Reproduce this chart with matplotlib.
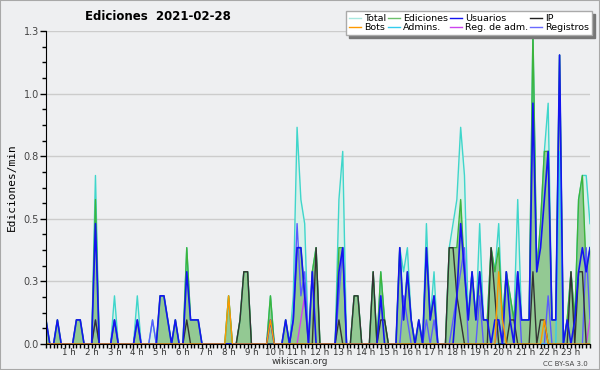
import numpy as np
import matplotlib
matplotlib.use('Agg')
import matplotlib.pyplot as plt
from matplotlib.lines import Line2D
from matplotlib.patches import Rectangle

# edits per 10-minute slot (144 slots, one row per hour)
total = [1,0,0,1,0,0, 0,0,1,1,0,0, 0,7,0,0,0,0, 2,0,0,0,0,0,
         2,0,0,0,1,0, 2,2,1,0,1,0, 0,4,1,1,1,0, 0,0,0,0,0,0,
         2,0,0,1,3,3, 0,0,0,0,0,2, 0,0,0,1,0,2, 9,6,5,0,3,4,
         0,0,0,0,0,6, 8,0,0,2,2,0, 0,0,3,0,3,1, 0,0,0,4,3,4,
         1,0,1,0,5,1, 3,0,0,0,4,5, 6,9,7,1,3,1, 5,1,1,4,3,5,
         1,3,2,1,6,1, 1,1,13,3,5,8, 10,1,1,12,0,1, 3,1,6,7,7,5]
ediciones = [1,0,0,1,0,0, 0,0,1,1,0,0, 0,6,0,0,0,0, 1,0,0,0,0,0,
             1,0,0,0,0,0, 2,2,1,0,1,0, 0,4,1,1,1,0, 0,0,0,0,0,0,
             2,0,0,1,3,3, 0,0,0,0,0,2, 0,0,0,1,0,1, 4,4,2,0,3,4,
             0,0,0,0,0,4, 4,0,0,2,2,0, 0,0,3,0,3,1, 0,0,0,4,1,3,
             1,0,1,0,4,1, 2,0,0,0,4,4, 4,6,3,1,3,1, 3,1,1,4,3,4,
             1,3,2,1,3,1, 1,1,13,3,5,8, 8,1,1,12,0,1, 3,1,6,7,3,4]
usuarios = [1,0,0,1,0,0, 0,0,1,1,0,0, 0,5,0,0,0,0, 1,0,0,0,0,0,
            1,0,0,0,0,0, 2,2,1,0,1,0, 0,3,1,1,1,0, 0,0,0,0,0,0,
            0,0,0,0,0,0, 0,0,0,0,0,1, 0,0,0,1,0,1, 4,4,2,0,3,0,
            0,0,0,0,0,3, 4,0,0,0,0,0, 0,0,0,0,2,0, 0,0,0,4,1,3,
            1,0,1,0,4,1, 2,0,0,0,0,0, 2,5,3,1,3,1, 3,1,1,0,1,1,
            0,3,1,0,3,1, 1,1,10,3,4,6, 8,1,1,12,0,1, 0,1,3,4,3,4]
ip = [0,0,0,0,0,0, 0,0,0,0,0,0, 0,1,0,0,0,0, 0,0,0,0,0,0,
      0,0,0,0,0,0, 0,0,0,0,0,0, 0,1,0,0,0,0, 0,0,0,0,0,0,
      0,0,0,1,3,3, 0,0,0,0,0,0, 0,0,0,0,0,0, 0,0,0,0,0,4,
      0,0,0,0,0,1, 0,0,0,2,2,0, 0,0,3,0,1,1, 0,0,0,0,0,0,
      0,0,0,0,0,0, 0,0,0,0,4,4, 2,1,0,0,0,0, 0,0,0,4,2,0,
      0,0,1,1,0,0, 0,0,3,0,1,1, 0,0,0,0,0,0, 3,0,3,3,0,0]
bots = [0]*48 + [2,0,0,0,0,0, 0,0,0,0,0,1] + [0]*54 + \
       [0,0,0,0,0,3, 1,0,0,0,0,0, 0,0,0,0,0,1] + [0]*12
admins = [0]*132 + [0,0,0,8,0,0] + [0]*6
reg_adm = [0]*66 + [0,1,2,0,0,0] + [0]*66 + [0,0,0,0,0,1]
registros = [0,0,0,0,0,0, 0,0,0,0,0,0, 0,1,0,0,0,0, 1,0,0,0,0,0,
             1,0,0,0,1,0, 0,0,0,0,0,0, 0,0,0,0,0,0, 0,0,0,0,0,0,
             0,0,0,0,0,0, 0,0,0,0,0,0, 0,0,0,0,0,1, 5,2,3,0,0,0,
             0,0,0,0,0,2, 4,0,0,0,0,0, 0,0,0,0,0,0, 0,0,0,0,2,1,
             0,0,0,0,1,0, 1,0,0,0,0,1, 2,3,4,0,0,0, 2,0,0,0,0,1,
             0,0,0,0,3,0, 0,0,0,0,0,0, 2,0,0,0,0,0, 0,0,0,0,4,1]

hour_labels = ['%d h' % h for h in range(1, 24)]

slots = np.arange(len(total))
per_min = lambda s: np.array(s) / 10.0  # per 10 min -> per minute

bg = '#eeeff1'
fig = plt.figure(figsize=(6, 3.7), dpi=100, facecolor=bg)
fig.patches.append(Rectangle((0, 0), 1, 1, transform=fig.transFigure, fill=False,
                             edgecolor='#a8a8a8', linewidth=1.5))
ax = fig.add_axes([46/600, 26/370, 544/600, 313/370], facecolor=bg)

ax.fill_between(slots, per_min(total), color='#d9f0ea', lw=0)
ax.plot(slots, per_min(total), color='#3fd6cb', lw=1)
ax.fill_between(slots, per_min(ediciones), color='#93c993', lw=0)
ax.plot(slots, per_min(ediciones), color='#3cb43c', lw=1)
ax.plot(slots, per_min(registros), color='#5a5aff', lw=1)
ax.plot(slots, per_min(reg_adm), color='#cc44ee', lw=1)
ax.plot(slots, per_min(admins), color='#33ccee', lw=1)
ax.plot(slots, per_min(ip), color='#333333', lw=1)
ax.plot(slots, per_min(usuarios), color='#1414f0', lw=1.2)
ax.plot(slots, per_min(bots), color='#ff9900', lw=1)

ax.set_xlim(0, 143)
ax.set_ylim(0, 1.3)
yt = np.arange(6) * 0.26
ax.set_yticks(yt)
ax.set_yticklabels(['%.1f' % v for v in yt], fontsize=7, color='#444444')
ax.set_yticks(np.arange(21) * 0.065, minor=True)
ax.set_xticks(np.arange(1, 24) * 6)
ax.set_xticklabels(hour_labels, fontsize=6.2, color='#333333')
ax.set_xticks(slots, minor=True)
ax.tick_params(axis='y', which='major', length=4, width=1, pad=1)
ax.tick_params(axis='x', which='major', length=3, width=1, pad=0)
ax.tick_params(axis='both', which='minor', length=3, width=1)
ax.grid(axis='y', color='#cccccc', lw=1)
ax.set_axisbelow(True)
for s in ['top', 'right']:
    ax.spines[s].set_visible(False)
ax.set_ylabel('Ediciones/min', family='DejaVu Sans Mono', fontsize=8, labelpad=5)

fig.text(85/600, 1 - 17/370, 'Ediciones  2021-02-28', fontsize=8.5, fontweight='bold', va='center')
fig.text(300/600, 8/370, 'wikiscan.org', fontsize=6.5, color='#333333', ha='center', va='center')
fig.text(588/600, 6/370, 'CC BY-SA 3.0', fontsize=5, color='#444444', ha='right', va='center')

names = ['Total', 'Bots', 'Ediciones', 'Admins.', 'Usuarios', 'Reg. de adm.', 'IP', 'Registros']
colors = ['#a8e8e0', '#ff9900', '#6cc06c', '#33ccee', '#1414f0', '#cc44ee', '#222222', '#6a6aff']
handles = [Line2D([], [], color=c, lw=1) for c in colors]
leg = fig.legend(handles, names, ncol=4, loc='upper right', bbox_to_anchor=(592/600, 1 - 11/370),
                 fontsize=6.8, frameon=True, fancybox=False, shadow={'color': '#777777', 'alpha': 1},
                 handlelength=1.3, handletextpad=0.3, columnspacing=0.2, labelspacing=0.05,
                 borderpad=0.3, borderaxespad=0)
leg.get_frame().set_edgecolor('#aaaaaa')
leg.get_frame().set_linewidth(1)

fig.savefig('out.png', dpi=100, facecolor=bg)
